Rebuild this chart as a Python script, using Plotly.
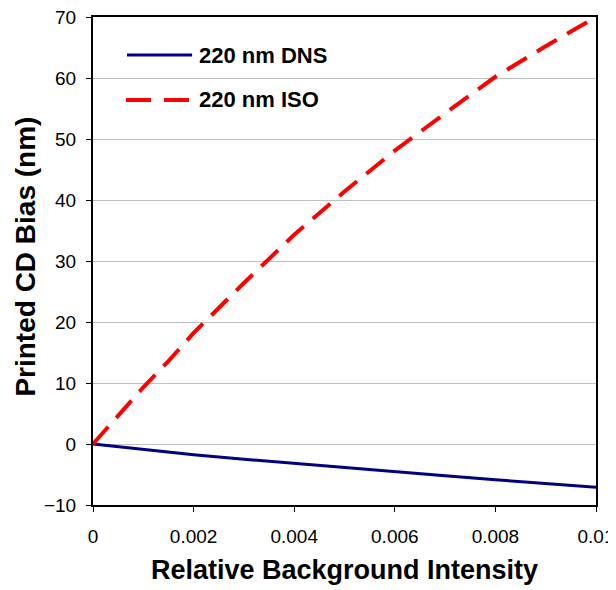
import plotly.graph_objects as go

# Data
dns_x = [0, 0.001, 0.002, 0.003, 0.004, 0.005, 0.006, 0.007, 0.008, 0.009, 0.01]
dns_y = [0, -0.93, -1.75, -2.5, -3.2, -3.9, -4.55, -5.2, -5.85, -6.5, -7.1]

iso_x = [0, 0.0005, 0.001, 0.0015, 0.002, 0.003, 0.004, 0.005, 0.006, 0.007, 0.008, 0.009, 0.01]
iso_y = [0, 4.6, 9.3, 13.6, 18.2, 26.4, 34.3, 41.4, 48.1, 54.2, 60.2, 65.2, 70]

x_ticks = [0, 0.002, 0.004, 0.006, 0.008, 0.01]
x_tick_labels = ["0", "0.002", "0.004", "0.006", "0.008", "0.01"]
y_ticks = [-10, 0, 10, 20, 30, 40, 50, 60, 70]

series_names = ["220 nm DNS", "220 nm ISO"]
series_colors = ["#000080", "#FF0000"]

FONT = "Liberation Sans, Arial, sans-serif"

fig = go.Figure()
fig.add_trace(go.Scatter(x=dns_x, y=dns_y, mode="lines", name=series_names[0],
                         showlegend=False,
                         line=dict(color=series_colors[0], width=3)))
fig.add_trace(go.Scatter(x=iso_x, y=iso_y, mode="lines", name=series_names[1],
                         showlegend=False,
                         line=dict(color=series_colors[1], width=4, dash="23px,12px")))

# Legend (drawn manually to match the long sample lines)
fig.add_shape(type="rect", xref="x domain", yref="y domain",
              x0=0.03, x1=0.50, y0=0.80, y1=0.97,
              fillcolor="white", line=dict(width=0), layer="below")
leg_y = [0.922, 0.830]
fig.add_shape(type="line", xref="x domain", yref="y domain",
              x0=0.0676, x1=0.197, y0=leg_y[0], y1=leg_y[0],
              line=dict(color=series_colors[0], width=3))
fig.add_shape(type="line", xref="x domain", yref="y domain",
              x0=0.0656, x1=0.191, y0=leg_y[1], y1=leg_y[1],
              line=dict(color=series_colors[1], width=4, dash="25px,13px"))
for name, yy in zip(series_names, leg_y):
    fig.add_annotation(xref="x domain", yref="y domain", x=0.2068, y=yy,
                       xanchor="left", yanchor="middle", showarrow=False,
                       text="<b>" + name + "</b>",
                       font=dict(size=22, family=FONT, color="black"))

# Y-axis title as annotation
fig.add_annotation(xref="x domain", yref="y domain", x=0.0, y=0.509,
                   xshift=-67, xanchor="center", yanchor="middle",
                   textangle=-90, showarrow=False,
                   text="<b>Printed CD Bias (nm)</b>",
                   font=dict(size=28, family=FONT, color="black"))

# The page body adds an 8px margin, so the figure is sized to the visible area
fig.update_layout(
    width=608, height=582,
    margin=dict(l=85, r=20, t=9, b=85),
    paper_bgcolor="white", plot_bgcolor="white",
    font=dict(family=FONT, color="black", size=19),
    showlegend=False,
    xaxis=dict(range=[0, 0.01], tickvals=x_ticks, ticktext=x_tick_labels,
               showgrid=False, zeroline=False, automargin=False,
               ticklabeloverflow="allow",
               showline=True, linecolor="black", linewidth=2, mirror=True,
               ticks="outside", ticklen=5, tickwidth=1, tickcolor="black",
               ticklabelstandoff=8,
               title=dict(text="<b>Relative Background Intensity</b>",
                          font=dict(size=27, family=FONT), standoff=14)),
    yaxis=dict(range=[-10, 70], tickvals=y_ticks,
               showgrid=True, gridcolor="#c0c0c0", gridwidth=1, zeroline=False,
               automargin=False, ticklabeloverflow="allow",
               showline=True, linecolor="black", linewidth=2, mirror=True,
               ticks="outside", ticklen=5, tickwidth=1, tickcolor="black",
               ticklabelstandoff=6),
)

fig.write_html("out.html")
